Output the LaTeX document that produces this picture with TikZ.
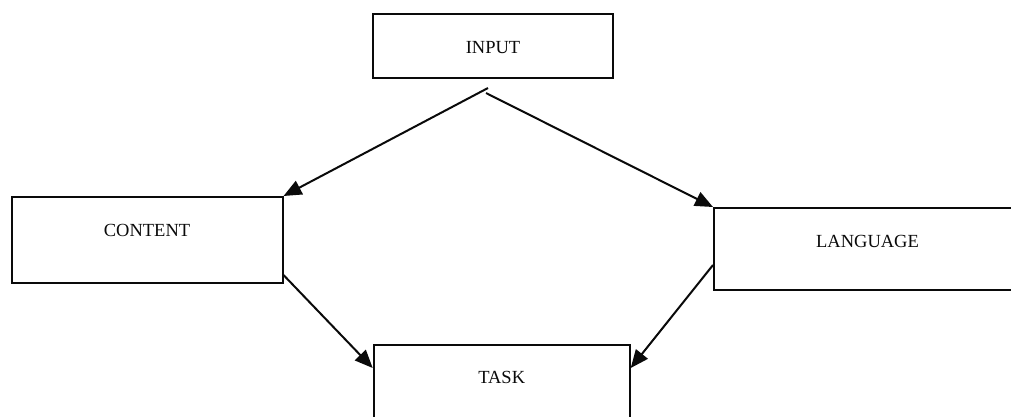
\documentclass[tikz,border=0pt]{standalone}
\usepackage{fontspec}
\setmainfont{Liberation Serif}
\usetikzlibrary{arrows.meta,positioning}
\usepackage{xcolor}
\definecolor{inkblack}{rgb}{0.04, 0.04, 0.04}

\begin{document}
\begin{tikzpicture}[x=1pt,y=-1pt,
	block box/.style={draw=inkblack, line width=2pt, inner sep=0pt, text=inkblack,
		font=\fontsize{18.5}{22}\selectfont, anchor=north west},
	flow arrow/.style={draw=inkblack, line width=2pt, -{Triangle[length=18pt,width=15pt]}}]
	% Page size of the reference.
	\useasboundingbox (0,0) rectangle (1011,416);
	\clip (0,0) rectangle (1011,416);

	% The four boxes.
	\node (input) [block box, minimum width=240pt, text height=39pt, text depth=25pt] at (372,13) {INPUT};
	\node (content) [block box, minimum width=271pt, text height=39pt, text depth=47pt] at (10.5,196) {CONTENT};
	\node (language) [block box, minimum width=307pt, text height=39pt, text depth=43pt] at (713,207) {LANGUAGE};
	\node (task) [block box, minimum width=256pt, text height=38pt, text depth=60pt] at (372.7,344) {TASK};

	% Arrows out of INPUT start a little below it.
	\draw [flow arrow] ([xshift=-5pt,yshift=-9pt]input.south) -- (content.north east);
	\draw [flow arrow] ([xshift=-7pt,yshift=-14pt]input.south) -- (language.north west);

	% Arrows into TASK.
	\draw [flow arrow] ([yshift=9pt]content.south east) -- ([yshift=-24pt]task.north west);
	\draw [flow arrow] ([yshift=26pt]language.south west) -- ([yshift=-24pt]task.north east);
\end{tikzpicture}
\end{document}
